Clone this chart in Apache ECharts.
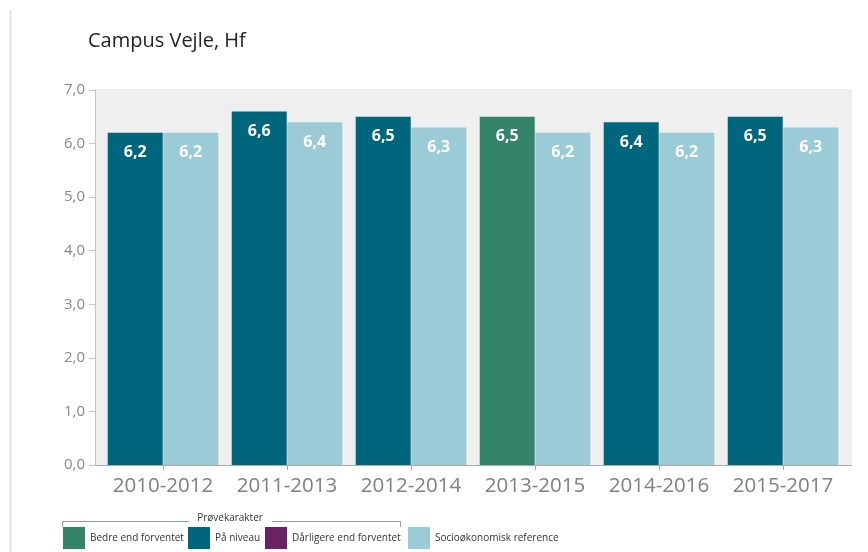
<!DOCTYPE html>
<html><head><meta charset="utf-8">
<script src="https://cdn.jsdelivr.net/npm/echarts@6/dist/echarts.min.js"></script>
<style>html,body{margin:0;padding:0;background:#fff}#c{width:868px;height:552px}</style>
</head><body><div id="c"></div>
<script>
const categories = ['2010-2012','2011-2013','2012-2014','2013-2015','2014-2016','2015-2017'];
const bedre = [null, null, null, 6.5, null, null];
const paNiveau = [6.2, 6.6, 6.5, null, 6.4, 6.5];
const darligere = [null, null, null, null, null, null];
const socio = [6.2, 6.4, 6.3, 6.2, 6.2, 6.3];
const yTicks = [0,1,2,3,4,5,6,7];
const legendNames = ['Bedre end forventet','På niveau','Dårligere end forventet','Socioøkonomisk reference'];

const fmt = v => (v == null ? '' : Number(v).toFixed(1).replace('.', ','));
const FONT = 'Open Sans';
const lbl = {show:true, position:'insideTop', distance:12, color:'#fff', fontWeight:'bold', fontSize:16, fontFamily:FONT,
  formatter: p => fmt(p.value)};
const legendLefts = [63, 188, 265, 408];

const chart = echarts.init(document.getElementById('c'));
chart.setOption({
  animation:false,
  textStyle:{fontFamily:FONT},
  title:{text:'Campus Vejle, Hf', left:88, top:31, padding:0, textStyle:{fontSize:20, fontWeight:'normal', color:'#222', fontFamily:FONT}},
  grid:{left:101, right:23, top:90, bottom:87},
  xAxis:{type:'category', data:categories,
    axisLine:{show:false},
    axisTick:{show:true, alignWithLabel:true, length:5, lineStyle:{color:'#aaa'}},
    axisLabel:{color:'#808080', fontSize:20.5, margin:11, interval:0, hideOverlap:false, fontFamily:FONT}},
  yAxis:{type:'value', min:yTicks[0], max:yTicks[yTicks.length-1], interval:1, offset:6,
    splitLine:{show:false},
    axisLine:{show:true, lineStyle:{color:'#c4c4c4'}},
    axisTick:{show:true, length:6, lineStyle:{color:'#c4c4c4'}},
    axisLabel:{color:'#888', fontSize:15, margin:10, fontFamily:FONT, formatter: v => fmt(v)}},
  legend: legendNames.map((n, i) => ({data:[n], left:legendLefts[i], top:527, padding:0, itemWidth:22, itemHeight:22, icon:'rect', itemGap:0,
      textStyle:{fontSize:10, color:'#333', fontFamily:FONT}, selectedMode:false})),
  graphic:[
    {type:'line', shape:{x1:10.5,y1:10,x2:10.5,y2:552}, style:{stroke:'#e2e2e2', lineWidth:2}},
    {type:'rect', z:-10, shape:{x:95, y:89, width:757, height:376}, style:{fill:'#efefef'}},
    {type:'line', z:10, shape:{x1:95,y1:465.5,x2:852,y2:465.5}, style:{stroke:'#aaa', lineWidth:1}},
    {type:'polyline', shape:{points:[[62.5,527],[62.5,521.5],[189,521.5]]}, style:{stroke:'#999', lineWidth:1, fill:null}},
    {type:'polyline', shape:{points:[[272,521.5],[400.5,521.5],[400.5,527]]}, style:{stroke:'#999', lineWidth:1, fill:null}},
    {type:'text', style:{text:'Prøvekarakter', x:230, y:518, align:'center', verticalAlign:'middle', fontSize:10, fill:'#333', fontFamily:FONT}}
  ],
  series:[
    {name:legendNames[0], type:'bar', stack:'g', data:bedre, barWidth:55, barGap:'1%', itemStyle:{color:'#338468'}, label:lbl},
    {name:legendNames[1], type:'bar', stack:'g', data:paNiveau, barWidth:55, itemStyle:{color:'#00667e'}, label:lbl},
    {name:legendNames[2], type:'bar', stack:'g', data:darligere, barWidth:55, itemStyle:{color:'#6b2166'}, label:lbl},
    {name:legendNames[3], type:'bar', data:socio, barWidth:55, barGap:'1%', itemStyle:{color:'#9ccbd8'}, label:lbl}
  ]
});
</script></body></html>
